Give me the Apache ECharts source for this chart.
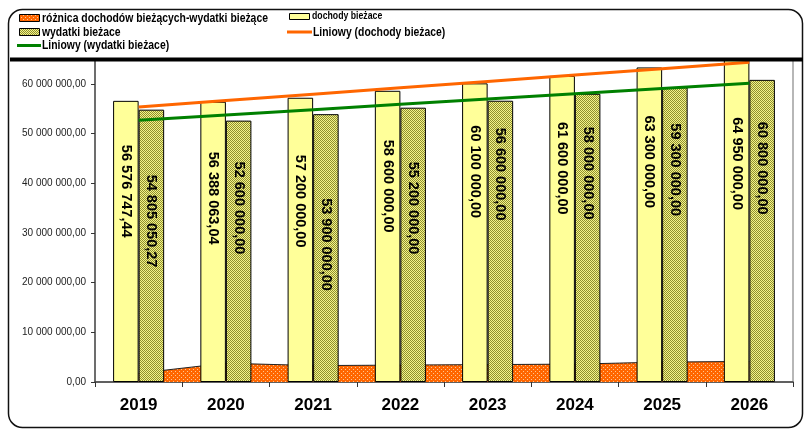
<!DOCTYPE html>
<html>
<head>
<meta charset="utf-8">
<script src="https://cdn.jsdelivr.net/npm/echarts@6/dist/echarts.min.js"></script>
<style>
  html, body { margin: 0; padding: 0; background: #fff; }
  #chart { width: 805px; height: 430px; }
</style>
</head>
<body>
<div id="chart"></div>
<script>
// Budget: current revenue vs current expenditure, 2019–2026
const years = ['2019', '2020', '2021', '2022', '2023', '2024', '2025', '2026'];
const dochodyBiezace = [56576747.44, 56388063.04, 57200000, 58600000, 60100000, 61600000, 63300000, 64950000];
const wydatkiBiezace = [54805050.27, 52600000, 53900000, 55200000, 56600000, 58000000, 59300000, 60800000];
const roznica = [1771697.17, 3788063.04, 3300000, 3400000, 3500000, 3600000, 4000000, 4150000];
const yTicks = [0, 10000000, 20000000, 30000000, 40000000, 50000000, 60000000];

// Gap (px) between the top of each bar and the start of its rotated value label
const incomeLabelGap = [44, 50, 57, 49, 42, 46, 48, 58];
const spendLabelGap = [65, 41, 84, 54, 27, 33, 36, 42];

const SANS = '"Liberation Sans", Arial, sans-serif';
// Key text is set in a condensed cut: bold sans squeezed horizontally
const KEY_SQUEEZE = 0.8;

// Polish-style number: spaces between thousands, comma decimal
function fmt(v) {
  const parts = v.toFixed(2).split('.');
  return parts[0].replace(/\B(?=(\d{3})+(?!\d))/g, ' ') + ',' + parts[1];
}

// Least-squares linear trend evaluated at each category
function linearTrend(values) {
  const n = values.length;
  let sx = 0, sy = 0, sxx = 0, sxy = 0;
  values.forEach((y, x) => { sx += x; sy += y; sxx += x * x; sxy += x * y; });
  const slope = (n * sxy - sx * sy) / (n * sxx - sx * sx);
  const icpt = (sy - slope * sx) / n;
  return values.map((_, x) => icpt + slope * x);
}

// Hatch fills
function makePattern(size, bg, fg, dots) {
  const c = document.createElement('canvas');
  c.width = size; c.height = size;
  const ctx = c.getContext('2d');
  ctx.fillStyle = bg; ctx.fillRect(0, 0, size, size);
  ctx.fillStyle = fg;
  dots.forEach(([x, y]) => ctx.fillRect(x, y, 1, 1));
  return { image: c, repeat: 'repeat' };
}
const olivePattern = makePattern(2, '#f4f48a', '#8f8f2e', [[0, 0], [1, 1]]);
const orangePattern = makePattern(4, '#ff6600', '#ffc58f', [[1, 1], [3, 3]]);
const olivePatternKey = makePattern(2, '#f4f48a', '#8f8f2e', [[0, 0], [1, 1]]);
const orangePatternKey = makePattern(4, '#ff6600', '#ffc58f', [[1, 1], [3, 3]]);

function barData(values, gaps) {
  return values.map((v, i) => ({
    value: v,
    label: { position: ['50%', gaps[i]] }
  }));
}

const barLabel = {
  show: true,
  rotate: -90,
  align: 'left',
  verticalAlign: 'middle',
  color: '#000',
  fontFamily: SANS,
  fontWeight: 'bold',
  fontSize: 14.5,
  formatter: p => fmt(p.value)
};

function keyText(text, x, y, size, squeeze) {
  return {
    type: 'text', z: 100, x: x, y: y, scaleX: squeeze || KEY_SQUEEZE,
    style: {
      text: text, font: 'bold ' + size + 'px ' + SANS,
      fill: '#000', verticalAlign: 'middle'
    }
  };
}

const chart = echarts.init(document.getElementById('chart'), null, { renderer: 'canvas' });

chart.setOption({
  animation: false,
  backgroundColor: '#fff',
  grid: {
    left: 95, right: 12, top: 59, bottom: 48,
    show: true, borderColor: '#a0a0a0', borderWidth: 1.5, backgroundColor: 'transparent'
  },
  xAxis: {
    type: 'category',
    data: years,
    boundaryGap: true,
    axisLine: { lineStyle: { color: '#444', width: 1.5 } },
    axisTick: { show: true, alignWithLabel: false, length: 5, lineStyle: { color: '#333' } },
    axisLabel: {
      color: '#000', fontFamily: SANS, fontWeight: 'bold', fontSize: 17, margin: 15
    },
    splitLine: { show: false }
  },
  yAxis: {
    type: 'value',
    min: 0,
    max: 65000000,
    interval: 10000000,
    axisLine: { show: true, lineStyle: { color: '#555', width: 1.5 } },
    axisTick: { show: true, length: 4, lineStyle: { color: '#333' } },
    axisLabel: {
      color: '#222', fontFamily: SANS, fontSize: 10, margin: 9,
      showMaxLabel: false,
      formatter: v => (yTicks.indexOf(v) >= 0 ? fmt(v) : '')
    },
    splitLine: { show: false }
  },
  series: [
    {
      name: 'różnica dochodów bieżących-wydatki bieżące',
      type: 'line',
      data: roznica,
      symbol: 'none',
      z: 1,
      lineStyle: { color: '#222', width: 1 },
      areaStyle: { color: orangePattern, opacity: 1 }
    },
    {
      name: 'dochody bieżace',
      type: 'bar',
      data: barData(dochodyBiezace, incomeLabelGap),
      barGap: '0%',
      barCategoryGap: '41.5%',
      z: 2,
      itemStyle: { color: '#ffff99', borderColor: '#000', borderWidth: 1 },
      label: barLabel
    },
    {
      name: 'wydatki bieżace',
      type: 'bar',
      data: barData(wydatkiBiezace, spendLabelGap),
      barGap: '0%',
      barCategoryGap: '41.5%',
      z: 2,
      itemStyle: { color: olivePattern, borderColor: '#000', borderWidth: 1 },
      label: barLabel
    },
    {
      name: 'Liniowy (dochody bieżace)',
      type: 'line',
      data: linearTrend(dochodyBiezace),
      symbol: 'none',
      z: 5,
      lineStyle: { color: '#ff6600', width: 3 }
    },
    {
      name: 'Liniowy (wydatki bieżace)',
      type: 'line',
      data: linearTrend(wydatkiBiezace),
      symbol: 'none',
      z: 5,
      lineStyle: { color: '#008000', width: 3 }
    }
  ],
  graphic: [
    // outer frame
    { type: 'rect', z: 100, silent: true,
      shape: { x: 8.5, y: 9.5, width: 794, height: 418, r: 14 },
      style: { fill: 'none', stroke: '#111', lineWidth: 1.5 } },
    // heavy rule under the key
    { type: 'rect', z: 100, silent: true,
      shape: { x: 10, y: 57.5, width: 793, height: 4 },
      style: { fill: '#000' } },
    // key, left column
    { type: 'rect', z: 100, shape: { x: 19.5, y: 14.5, width: 20, height: 7 },
      style: { fill: orangePatternKey, stroke: '#000', lineWidth: 1 } },
    keyText('różnica dochodów bieżących-wydatki bieżące', 42, 18.5, 13),
    { type: 'rect', z: 100, shape: { x: 19.5, y: 28.5, width: 20, height: 7 },
      style: { fill: olivePatternKey, stroke: '#000', lineWidth: 1 } },
    keyText('wydatki bieżace', 42, 32, 13),
    { type: 'line', z: 100, shape: { x1: 17, y1: 45.5, x2: 41, y2: 45.5 },
      style: { stroke: '#008000', lineWidth: 3 } },
    keyText('Liniowy (wydatki bieżace)', 42, 45.5, 13),
    // key, right column
    { type: 'rect', z: 100, shape: { x: 289.5, y: 13.5, width: 20, height: 6 },
      style: { fill: '#ffff99', stroke: '#000', lineWidth: 1 } },
    keyText('dochody bieżace', 312, 16.5, 10.5, 0.83),
    { type: 'line', z: 100, shape: { x1: 287, y1: 32, x2: 312, y2: 32 },
      style: { stroke: '#ff6600', lineWidth: 3 } },
    keyText('Liniowy (dochody bieżace)', 313, 32, 13)
  ]
});
</script>
</body>
</html>
